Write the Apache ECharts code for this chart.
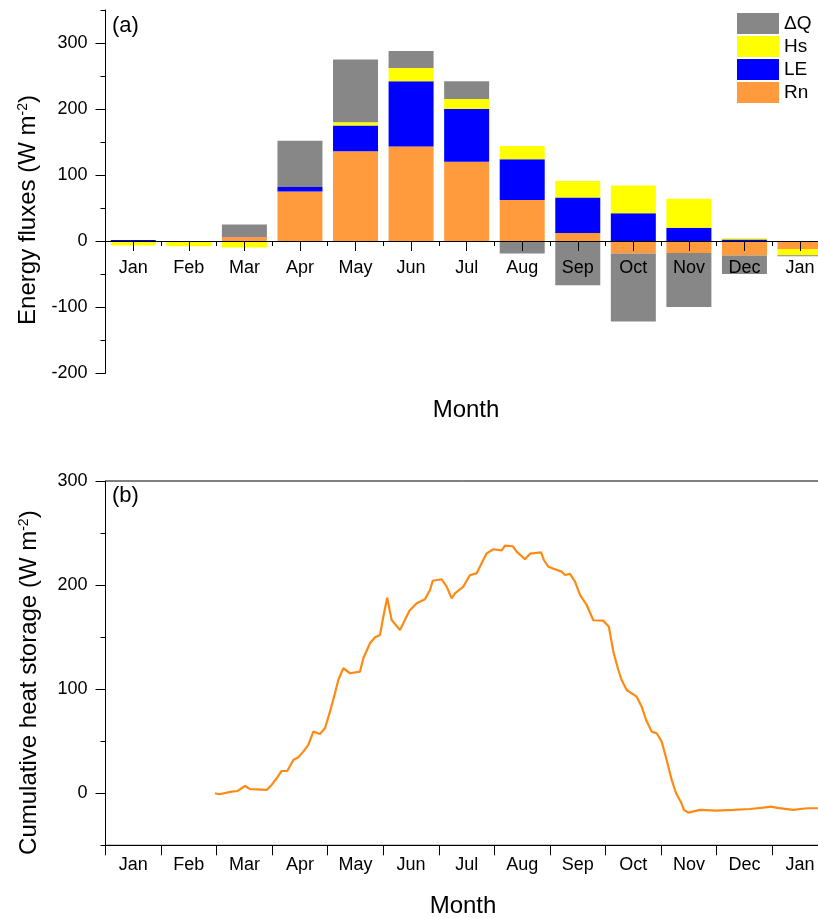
<!DOCTYPE html>
<html>
<head>
<meta charset="utf-8">
<script src="https://cdn.jsdelivr.net/npm/echarts@6/dist/echarts.min.js"></script>
<style>html,body{margin:0;padding:0;background:#fff}#c{width:818px;height:918px}</style>
</head>
<body>
<div id="c"></div>
<script>
// ---------- data ----------
const months = ['Jan','Feb','Mar','Apr','May','Jun','Jul','Aug','Sep','Oct','Nov','Dec','Jan'];
const rnValues = [0, 0, 6, 75, 136, 143, 120, 62, 12, -19, -18, -22, -12];
const leValues = [1.5, 0, 1, 7, 39, 99, 80, 62, 54, 42, 20, 2.4, 0];
const hsValues = [-7, -8, -10, 0, 5, 20, 15, 20, 25, 42, 44, 1.6, -9.5];
const dqValues = [0, 0, 18, 70, 95, 26, 27, -19, -67, -103, -82, -28, -1.5];
const fluxTickValues = [-200, -100, 0, 100, 200, 300];
const storageTickValues = [0, 100, 200, 300];

// cumulative heat storage: x in months since 1 Jan, y in W m-2
const storageMonth = [1.97,2.05,2.27,2.38,2.51,2.60,2.72,2.90,2.99,3.08,3.17,3.27,3.38,3.47,3.56,3.65,3.74,3.86,3.95,4.04,4.13,4.19,4.28,4.40,4.58,4.64,4.76,4.85,4.94,5.00,5.07,5.15,5.24,5.30,5.36,5.47,5.60,5.75,5.84,5.89,6.05,6.14,6.23,6.29,6.44,6.56,6.68,6.77,6.86,6.98,7.13,7.19,7.33,7.40,7.55,7.64,7.84,7.89,7.97,8.09,8.21,8.27,8.36,8.45,8.54,8.66,8.78,8.96,9.06,9.14,9.23,9.29,9.38,9.56,9.65,9.73,9.83,9.92,10.01,10.10,10.19,10.27,10.36,10.41,10.49,10.70,11.00,11.30,11.60,11.84,11.98,12.09,12.38,12.63,12.83];
const storageValue = [0,-1.0,1.5,2.2,7.0,4.1,3.8,3.2,8.0,14.4,21.4,21.4,32.0,34.6,40.0,46.4,59.2,57.0,62.4,78.4,96.1,108.8,120.1,115.3,116.8,129.7,144.1,149.9,152.1,169.6,187.9,166.5,160.7,156.9,163.3,175.4,182.5,186.4,195.3,204.2,205.6,198.5,187.3,192.1,198.5,209.7,211.3,220.9,230.5,234.4,233.4,237.9,237.3,232.1,224.8,230.2,231.5,224.1,217.7,215.2,212.9,209.7,210.7,203.3,190.5,180.9,166.2,165.8,160.0,136.0,118.4,108.8,99.2,92.8,83.2,70.4,59.2,57.6,49.6,32.0,12.8,0,-8.8,-16.0,-18.6,-16.0,-16.7,-16.0,-15.1,-13.8,-12.9,-14.1,-16.0,-14.4,-14.4];

// ---------- styles ----------
const FONT = '"Liberation Sans", Arial, sans-serif';
const BLACK = '#000';
const C_DQ = '#878787', C_HS = '#FFFF00', C_LE = '#0000FF', C_RN = '#FF9B3D', C_LINE = '#FF8A12';

const labelStyle = { color: BLACK, fontSize: 18, fontFamily: FONT };
const axisLine = { lineStyle: { color: BLACK, width: 1 } };
const nameRich = {
  n: { fontSize: 24, fontFamily: FONT, color: BLACK },
  s: { fontSize: 14, fontFamily: FONT, color: BLACK, verticalAlign: 'top' }
};

// zero line of panel (a) sits 132 px above the grid bottom (-200..350 over 363 px)
const ZERO_OFFSET_A = -132;

const chart = echarts.init(document.getElementById('c'), null, { renderer: 'canvas' });

function barSeries(name, data, color) {
  return {
    name, type: 'bar', stack: 'flux', data,
    xAxisIndex: 0, yAxisIndex: 0,
    barWidth: 45,
    itemStyle: { color },
    emphasis: { disabled: true }
  };
}

const option = {
  animation: false,
  backgroundColor: '#fff',
  grid: [
    { left: 105.5, top: 10, width: 722.3, height: 363, containLabel: false, outerBoundsMode: 'none' },
    { left: 105.5, top: 481, width: 722.3, height: 364.3, containLabel: false, outerBoundsMode: 'none',
      show: true, borderColor: BLACK, borderWidth: 1, backgroundColor: 'transparent' }
  ],
  legend: {
    orient: 'vertical', left: 732, top: 8,
    itemWidth: 42, itemHeight: 21, itemGap: 2,
    icon: 'rect',
    textStyle: { color: BLACK, fontSize: 19, fontFamily: FONT },
    data: ['ΔQ', 'Hs', 'LE', 'Rn']
  },
  xAxis: [
    { type: 'category', gridIndex: 0, data: months, z: 5, position: 'bottom', offset: ZERO_OFFSET_A,
      axisLine: { show: true, onZero: false, lineStyle: { color: BLACK, width: 1 } },
      axisTick: { show: true, alignWithLabel: true, interval: 0, length: 10, lineStyle: { color: BLACK } },
      axisLabel: Object.assign({ show: true, margin: 18, interval: 0 }, labelStyle),
      splitLine: { show: false } },
    { type: 'category', gridIndex: 0, data: months, z: 5, position: 'bottom', offset: ZERO_OFFSET_A,
      axisLine: { show: false, onZero: false },
      axisTick: { show: true, length: 5, interval: 0, lineStyle: { color: BLACK } },
      axisLabel: { show: false }, splitLine: { show: false } },
    { type: 'category', gridIndex: 1, data: months, z: 5, position: 'bottom',
      axisLine: { show: true, onZero: false, lineStyle: { color: BLACK, width: 1 } },
      axisTick: { show: true, length: 10, interval: 0, lineStyle: { color: BLACK } },
      axisLabel: Object.assign({ show: true, margin: 11, interval: 0 }, labelStyle),
      splitLine: { show: false } },
    { type: 'value', gridIndex: 1, min: 0, max: 13, show: false, splitLine: { show: false } }
  ],
  yAxis: [
    { type: 'value', gridIndex: 0, min: -200, max: 350, interval: 100, position: 'left',
      axisLine: Object.assign({ show: true }, axisLine),
      axisTick: { show: true, length: 10, customValues: fluxTickValues, lineStyle: { color: BLACK } },
      axisLabel: Object.assign({ margin: 18, customValues: fluxTickValues,
        formatter: v => (v > 300 ? '' : String(v)) }, labelStyle),
      splitLine: { show: false },
      name: '{n|Energy fluxes (W m}{s|-2}{n|)}', nameLocation: 'middle', nameGap: 64,
      nameTextStyle: { rich: nameRich, padding: [0, 37, 0, 0] } },
    { type: 'value', gridIndex: 0, min: -200, max: 350, interval: 50, position: 'left',
      axisLine: { show: false },
      axisTick: { show: true, length: 5, lineStyle: { color: BLACK } },
      axisLabel: { show: false }, splitLine: { show: false } },
    { type: 'value', gridIndex: 1, min: -50, max: 300, interval: 50, position: 'left',
      axisLine: Object.assign({ show: true, onZero: false }, axisLine),
      axisTick: { show: true, length: 10, customValues: storageTickValues, lineStyle: { color: BLACK } },
      axisLabel: Object.assign({ margin: 18, customValues: storageTickValues,
        formatter: v => (v % 100 === 0 ? String(v) : '') }, labelStyle),
      splitLine: { show: false },
      name: '{n|Cumulative heat storage (W m}{s|-2}{n|)}', nameLocation: 'middle', nameGap: 64,
      nameTextStyle: { rich: nameRich, padding: [0, 39, 0, 0] } },
    { type: 'value', gridIndex: 1, min: -50, max: 300, interval: 50, position: 'left',
      axisLine: { show: false },
      axisTick: { show: true, length: 5, lineStyle: { color: BLACK } },
      axisLabel: { show: false }, splitLine: { show: false } }
  ],
  graphic: [
    { type: 'text', x: 112, y: 26, style: { text: '(a)', fontSize: 22, fontFamily: FONT, fill: BLACK, align: 'left', verticalAlign: 'middle' } },
    { type: 'text', x: 112, y: 496, style: { text: '(b)', fontSize: 22, fontFamily: FONT, fill: BLACK, align: 'left', verticalAlign: 'middle' } },
    { type: 'text', x: 466, y: 410, style: { text: 'Month', fontSize: 24, fontFamily: FONT, fill: BLACK, align: 'center', verticalAlign: 'middle' } },
    { type: 'text', x: 463, y: 906, style: { text: 'Month', fontSize: 24, fontFamily: FONT, fill: BLACK, align: 'center', verticalAlign: 'middle' } }
  ],
  series: [
    barSeries('Rn', rnValues, C_RN),
    barSeries('LE', leValues, C_LE),
    barSeries('Hs', hsValues, C_HS),
    barSeries('ΔQ', dqValues, C_DQ),
    { name: 'storage', type: 'line', xAxisIndex: 3, yAxisIndex: 2,
      data: storageMonth.map((m, i) => [m, storageValue[i]]),
      showSymbol: false, symbol: 'none',
      lineStyle: { color: C_LINE, width: 2.2 },
      itemStyle: { color: C_LINE },
      emphasis: { disabled: true } }
  ]
};
chart.setOption(option);
</script>
</body>
</html>
